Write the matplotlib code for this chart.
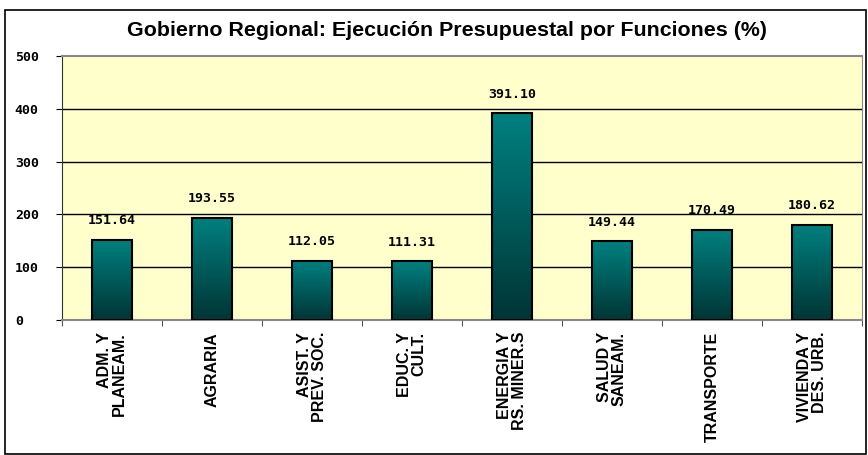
import matplotlib.pyplot as plt
import numpy as np
from matplotlib.colors import LinearSegmentedColormap

categories = [
    "ADM. Y\nPLANEAM.",
    "AGRARIA",
    "ASIST. Y\nPREV. SOC.",
    "EDUC. Y\nCULT.",
    "ENERGIA Y\nRS. MINER.S",
    "SALUD Y\nSANEAM.",
    "TRANSPORTE",
    "VIVIENDA Y\nDES. URB.",
]
values = [151.64, 193.55, 112.05, 111.31, 391.10, 149.44, 170.49, 180.62]
yticks = [0, 100, 200, 300, 400, 500]

title = "Gobierno Regional: Ejecución Presupuestal por Funciones (%)"

W, H = 868, 455
fig = plt.figure(figsize=(W / 100, H / 100), dpi=100)
fig.patch.set_facecolor("white")

# outer frame
fig.add_artist(plt.Rectangle((5 / W, 0.002), (W - 7) / W, 1 - 10 / H - 0.002,
                             transform=fig.transFigure, fill=False,
                             edgecolor="black", linewidth=1.2))

left, right, top, bottom = 62, 862, 56, 320
ax = fig.add_axes([left / W, 1 - bottom / H, (right - left) / W, (bottom - top) / H])
ax.set_facecolor("#ffffcc")

x = np.arange(len(values))
width = 0.4
cmap = LinearSegmentedColormap.from_list("teal", ["#003535", "#008080"])
grad = np.linspace(0, 1, 256).reshape(-1, 1)

for xi, v in zip(x, values):
    ax.imshow(grad, cmap=cmap, origin="lower", aspect="auto",
              extent=(xi - width / 2, xi + width / 2, 0, v), zorder=2)
ax.bar(x, values, width=width, facecolor="none", edgecolor="black",
       linewidth=1.5, zorder=3)

for xi, v in zip(x, values):
    ax.annotate(f"{v:.2f}", (xi, v), xytext=(0, 9), textcoords="offset points",
                ha="center", va="bottom", fontsize=9.5, fontweight="bold",
                family="DejaVu Sans Mono", zorder=4)

ax.set_xlim(-0.5, len(values) - 0.5)
ax.set_ylim(0, 500)
ax.set_yticks(yticks)
ax.set_yticklabels([str(t) for t in yticks], family="DejaVu Sans Mono",
                   fontweight="bold", fontsize=9.5)
ax.tick_params(axis="y", length=4, pad=30, direction="out")
for lbl in ax.get_yticklabels():
    lbl.set_horizontalalignment("left")

ax.set_xticks(np.arange(len(values) + 1) - 0.5)
ax.set_xticklabels([])
ax.tick_params(axis="x", length=4, color="#555555")

for t in yticks[1:-1]:
    ax.axhline(t, color="black", linewidth=1.0, zorder=1)

ax.spines["top"].set_color("#888888")
ax.spines["right"].set_color("#888888")
ax.spines["bottom"].set_color("#888888")
ax.spines["left"].set_color("#333333")
ax.spines["top"].set_linewidth(1.5)
ax.spines["bottom"].set_linewidth(1.5)

for xi, cat in zip(x, categories):
    ax.text(xi, -0.045, cat, transform=ax.get_xaxis_transform(), rotation=90,
            ha="center", va="top", multialignment="right",
            family=["Liberation Sans", "DejaVu Sans"], fontweight="heavy",
            fontsize=11.5, linespacing=0.95)

fig.text(447 / W, 1 - 31 / H, title, ha="center", va="center",
         family=["Liberation Sans", "DejaVu Sans"], fontweight="bold",
         fontsize=15.4)

fig.savefig("out.png", dpi=100)
